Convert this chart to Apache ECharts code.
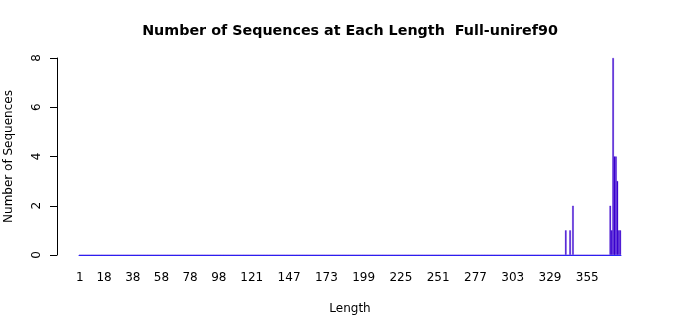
<!DOCTYPE html>
<html>
<head>
<meta charset="utf-8">
<script src="https://cdn.jsdelivr.net/npm/echarts@6/dist/echarts.min.js"></script>
<style>html,body{margin:0;padding:0;background:#fff}#c{width:700px;height:315px}</style>
</head>
<body>
<div id="c"></div>
<script>
// Data
var maxLength = 378;
var lengths = [340, 343, 345, 371, 372, 373, 374, 375, 376, 377, 378];
var counts  = [1,   1,   2,   2,   1,   8,   4,   4,   3,   1,   1];
var tickLabels = ['1','18','38','58','78','98','121','147','173','199','225','251','277','303','329','355'];

var categories = [];
for (var i = 1; i <= maxLength; i++) categories.push(String(i));
var values = categories.map(function () { return 0; });
lengths.forEach(function (L, k) { values[L - 1] = counts[k]; });

var font = 'DejaVu Sans';
var chart = echarts.init(document.getElementById('c'), null, {renderer: 'canvas'});
chart.setOption({
  animation: false,
  backgroundColor: '#fff',
  title: {
    text: 'Number of Sequences at Each Length  Full-uniref90',
    left: 'center', top: 19,
    textStyle: {fontFamily: font, fontSize: 14.3, fontWeight: 'bold', color: '#000'}
  },
  grid: {left: 79, right: 79, top: 58, bottom: 60, containLabel: false, outerBoundsMode: 'none'},
  xAxis: {
    type: 'category',
    data: categories,
    boundaryGap: true,
    name: 'Length',
    nameLocation: 'middle',
    nameGap: 48,
    nameTextStyle: {fontFamily: font, fontSize: 12, color: '#000'},
    axisLine: {show: true, lineStyle: {color: '#2b2bff', width: 1}},
    axisTick: {show: false},
    axisLabel: {
      interval: function (idx, val) { return tickLabels.indexOf(val) >= 0; },
      margin: 17,
      fontFamily: font, fontSize: 12, color: '#000'
    },
    splitLine: {show: false}
  },
  yAxis: {
    type: 'value',
    min: 0, max: 8, interval: 2,
    offset: 22,
    name: 'Number of Sequences',
    nameLocation: 'middle',
    nameGap: 42,
    nameTextStyle: {fontFamily: font, fontSize: 12, color: '#000'},
    axisLine: {show: true, lineStyle: {color: '#000', width: 1}},
    axisTick: {show: true, length: 7, lineStyle: {color: '#000'}},
    axisLabel: {rotate: 90, margin: 14, fontFamily: font, fontSize: 12, color: '#000'},
    splitLine: {show: false}
  },
  series: [{
    type: 'bar',
    data: values,
    barCategoryGap: '0%',
    itemStyle: {color: '#3a00d0', borderColor: '#3a00d0', borderWidth: 0.3},
    emphasis: {disabled: true}
  }]
});
</script>
</body>
</html>
